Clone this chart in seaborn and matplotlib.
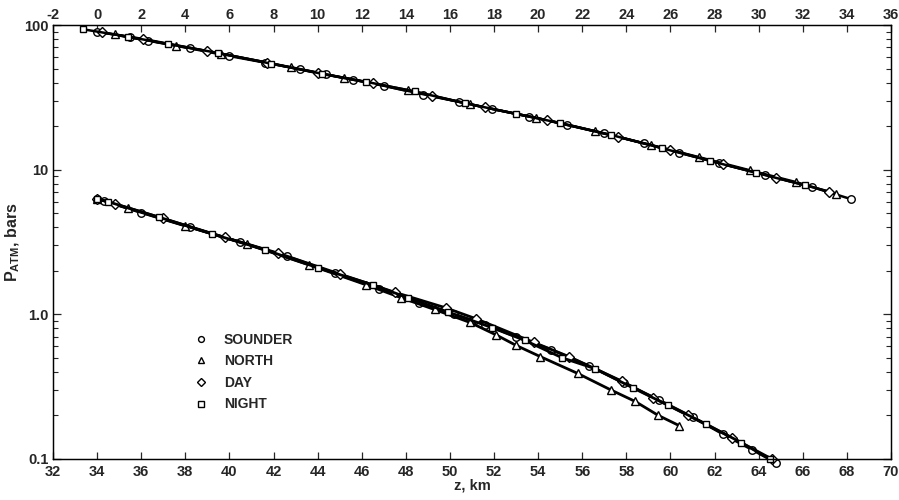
import matplotlib
matplotlib.use("Agg")
import matplotlib.pyplot as plt
import seaborn as sns
import numpy as np
import pandas as pd
from matplotlib.ticker import FixedLocator, FixedFormatter, NullFormatter, LogLocator
from matplotlib.lines import Line2D

# ---------------- data ----------------
probes = ["SOUNDER", "NORTH", "DAY", "NIGHT"]
markers = ["o", "^", "D", "s"]

# upper curve (plotted against top axis, km)
up_sounder_z = [0.0, 1.5, 2.3, 4.2, 6.0, 7.6, 9.2, 10.4, 11.6, 13.0, 14.8, 16.4, 17.9, 19.6, 21.3, 23.0, 24.8, 26.4, 28.2, 30.3, 32.4, 34.2]
up_sounder_p = [90, 82, 78, 69, 61, 55, 49.5, 45.5, 42, 38, 33, 29.5, 26.3, 23.3, 20.5, 17.8, 15.2, 13.1, 11.1, 9.2, 7.6, 6.25]
up_north_z = [0.8, 3.6, 5.6, 8.8, 11.2, 14.1, 16.9, 19.9, 22.6, 25.1, 27.3, 29.6, 31.7, 33.5]
up_north_p = [86, 72, 63.5, 51, 43, 35.5, 28.3, 22.8, 18.4, 14.8, 12.2, 9.9, 8.2, 6.8]
up_day_z = [0.2, 2.1, 5.0, 7.7, 10.0, 12.5, 15.2, 17.6, 20.4, 23.6, 26.0, 28.4, 30.8, 33.2]
up_day_p = [89, 80, 66, 55, 46.5, 39.5, 32.2, 26.9, 22.0, 16.9, 13.7, 10.9, 8.8, 7.05]
up_night_z = [-0.65, 1.4, 3.2, 5.5, 7.9, 10.2, 12.2, 14.4, 16.7, 19.0, 21.0, 23.3, 25.6, 27.8, 29.9, 32.1]
up_night_p = [93.5, 83, 74, 64, 54, 46, 40.5, 34.7, 28.8, 24.3, 21.0, 17.4, 14.1, 11.5, 9.5, 7.8]

# lower curve (plotted against bottom axis, km)
lo_sounder_z = [34.0, 34.3, 36.0, 38.2, 40.5, 42.6, 44.8, 46.8, 48.6, 50.2, 51.6, 53.0, 54.6, 56.3, 57.9, 59.5, 61.0, 62.4, 63.7, 64.8]
lo_sounder_p = [6.3, 6.1, 5.05, 4.0, 3.15, 2.52, 1.92, 1.5, 1.2, 1.0, 0.85, 0.70, 0.57, 0.44, 0.335, 0.255, 0.195, 0.148, 0.116, 0.094]
lo_north_z = [34.0, 35.4, 38.0, 40.8, 43.6, 46.2, 47.8, 49.3, 50.9, 52.1, 53.0, 54.1, 55.8, 57.3, 58.4, 59.45, 60.4]
lo_north_p = [6.3, 5.4, 4.1, 3.05, 2.2, 1.6, 1.3, 1.08, 0.88, 0.72, 0.61, 0.51, 0.39, 0.30, 0.25, 0.20, 0.17]
lo_day_z = [34.0, 34.8, 37.0, 39.8, 42.2, 45.0, 47.5, 49.8, 51.2, 53.8, 55.4, 57.8, 59.2, 60.8, 62.8, 64.6]
lo_day_p = [6.3, 5.8, 4.6, 3.4, 2.65, 1.9, 1.42, 1.11, 0.93, 0.64, 0.51, 0.345, 0.266, 0.20, 0.14, 0.100]
lo_night_z = [34.0, 34.5, 36.8, 39.2, 41.6, 44.0, 46.5, 48.1, 49.9, 51.9, 53.4, 55.1, 56.6, 58.3, 59.9, 61.6, 63.2, 64.5]
lo_night_p = [6.3, 6.0, 4.7, 3.6, 2.8, 2.1, 1.6, 1.3, 1.04, 0.81, 0.66, 0.50, 0.42, 0.31, 0.235, 0.175, 0.13, 0.10]

bottom_ticks = list(range(32, 71, 2))
top_ticks = list(range(-2, 37, 2))
y_ticks = [0.1, 1.0, 10, 100]
y_labels = ["0.1", "1.0", "10", "100"]

upper = {"SOUNDER": (up_sounder_z, up_sounder_p), "NORTH": (up_north_z, up_north_p),
         "DAY": (up_day_z, up_day_p), "NIGHT": (up_night_z, up_night_p)}
lower = {"SOUNDER": (lo_sounder_z, lo_sounder_p), "NORTH": (lo_north_z, lo_north_p),
         "DAY": (lo_day_z, lo_day_p), "NIGHT": (lo_night_z, lo_night_p)}

# ---------------- style ----------------
sns.set_style("ticks")
plt.rcParams["font.family"] = ["Liberation Sans", "DejaVu Sans"]
plt.rcParams["font.weight"] = "bold"
plt.rcParams["mathtext.fontset"] = "custom"
plt.rcParams["mathtext.rm"] = "Liberation Sans:bold"
plt.rcParams["mathtext.bf"] = "Liberation Sans:bold"

fig = plt.figure(figsize=(8.99, 5.0), dpi=100)
ax = fig.add_axes([53 / 899, 1 - 459 / 500, (891 - 53) / 899, (459 - 25) / 500])
ax.set_yscale("log")
ax.set_ylim(0.1, 100)
ax.set_xlim(32, 70)
ax2 = ax.twiny()
ax2.set_xlim(-2, 36)

msize = {"o": 5.4, "^": 5.4, "D": 4.6, "s": 5.0}

for name, mk in zip(probes, markers):
    z, p = upper[name]
    df = pd.DataFrame({"z": z, "p": p})
    sns.lineplot(data=df, x="z", y="p", ax=ax2, sort=False, color="black",
                 linewidth=1.8, marker=mk, markersize=msize[mk], markerfacecolor="white",
                 markeredgecolor="black", markeredgewidth=1.0, legend=False)
    z, p = lower[name]
    df = pd.DataFrame({"z": z, "p": p})
    sns.lineplot(data=df, x="z", y="p", ax=ax, sort=False, color="black",
                 linewidth=2.0, marker=mk, markersize=msize[mk], markerfacecolor="white",
                 markeredgecolor="black", markeredgewidth=1.0, legend=False, clip_on=False)

ax.set_ylim(0.1, 100)
ax.set_xlim(32, 70)
ax2.set_xlim(-2, 36)

# ticks
ax.set_xticks(bottom_ticks)
ax.set_xticklabels([str(t) for t in bottom_ticks], fontsize=10.5, fontweight="bold")
ax2.set_xticks(top_ticks)
ax2.set_xticklabels([str(t) for t in top_ticks], fontsize=10.5, fontweight="bold")
ax.yaxis.set_major_locator(FixedLocator(y_ticks))
ax.yaxis.set_major_formatter(FixedFormatter(y_labels))
ax.yaxis.set_minor_locator(LogLocator(base=10, subs=np.arange(2, 10)))
ax.yaxis.set_minor_formatter(NullFormatter())
for lbl in ax.get_yticklabels():
    lbl.set_fontsize(10.5)
    lbl.set_fontweight("bold")

ax.tick_params(axis="x", which="major", direction="in", length=5, width=0.9, pad=4)
ax.tick_params(axis="y", which="major", direction="in", length=6, width=0.9, left=True, right=True, pad=3)
ax.tick_params(axis="y", which="minor", direction="in", length=3.5, width=0.8, left=True, right=True)
ax2.tick_params(axis="x", which="major", direction="in", length=5, width=0.9, pad=2)
for a in (ax, ax2):
    for s in a.spines.values():
        s.set_linewidth(0.9)
        s.set_color("black")

ax.set_xlabel("z, km", fontsize=10.5, fontweight="bold", labelpad=0)
ax.set_ylabel(r"$\mathbf{P_{ATM}}$, bars", fontsize=11.5, fontweight="bold", labelpad=2)
ax2.set_xlabel("")
ax2.set_ylabel("")

# legend
handles = [Line2D([], [], linestyle="none", marker=mk, markersize=4.2 if mk != "D" else 3.8,
                  markerfacecolor="white", markeredgecolor="black", markeredgewidth=1.0)
           for mk in markers]
leg = ax.legend(handles, probes, loc="upper left",
                bbox_to_anchor=((182 - 53) / 838, 1 - (320 - 25) / 434),
                frameon=False, handlelength=1.0, handletextpad=1.1,
                labelspacing=0.55, prop={"size": 10, "weight": "bold"})

fig.savefig("out.png", dpi=100)
